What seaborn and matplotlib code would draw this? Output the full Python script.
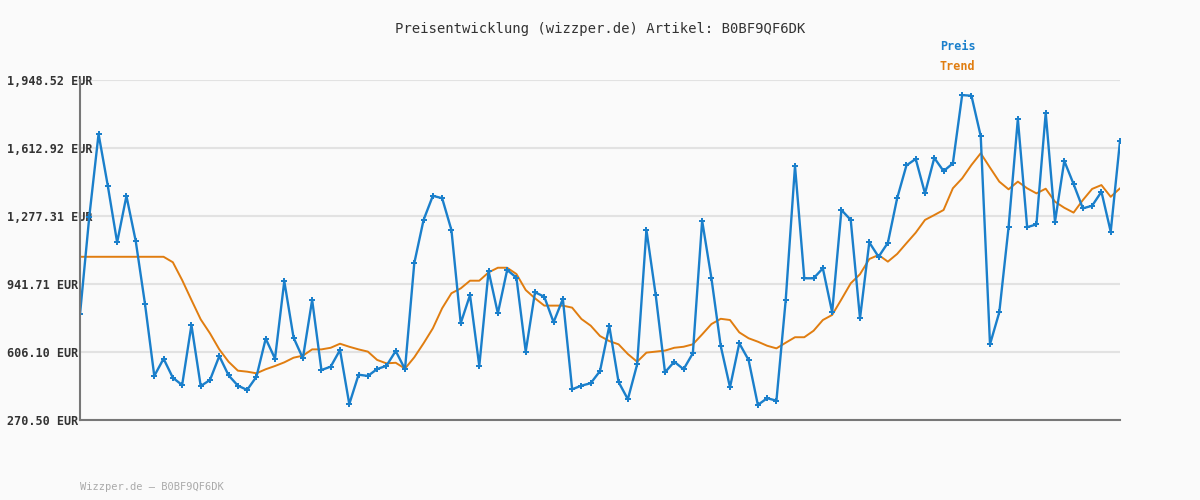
import numpy as np
import pandas as pd
import matplotlib
matplotlib.use("Agg")
import matplotlib.pyplot as plt
import seaborn as sns

preis = [792, 1274, 1682, 1425, 1147, 1376, 1154, 843, 488, 573,
         479, 443, 739, 438, 468, 586, 491, 440, 419, 484,
         672, 573, 956, 677, 575, 863, 517, 534, 616, 349,
         494, 488, 522, 538, 611, 521, 1045, 1258, 1377, 1365,
         1208, 748, 887, 537, 1006, 797, 1011, 973, 608, 901,
         879, 753, 868, 422, 440, 452, 512, 734, 458, 373,
         545, 1208, 887, 506, 558, 521, 600, 1254, 970, 636,
         432, 649, 567, 345, 378, 366, 863, 1524, 970, 970,
         1019, 802, 1307, 1258, 772, 1147, 1076, 1145, 1365, 1527,
         1559, 1389, 1564, 1499, 1537, 1874, 1871, 1672, 644, 802,
         1222, 1756, 1222, 1236, 1786, 1249, 1549, 1435, 1315, 1328,
         1397, 1200, 1647]
trend = [1076] * 10 + [
         1049, 961, 863, 767, 698, 619, 558, 514, 509, 501,
         521, 537, 555, 578, 588, 619, 619, 627, 647, 632,
         619, 608, 567, 550, 553, 524, 580, 649, 723, 822,
         896, 920, 958, 958, 999, 1022, 1022, 991, 912, 871,
         835, 835, 835, 825, 769, 736, 685, 660, 644, 596,
         558, 603, 608, 613, 627, 632, 644, 693, 744, 770,
         764, 703, 674, 657, 637, 624, 652, 679, 679, 711,
         764, 789, 866, 945, 990, 1065, 1085, 1052, 1090, 1143,
         1195, 1258, 1282, 1307, 1414, 1463, 1529, 1587, 1516, 1447,
         1409, 1447, 1414, 1389, 1412, 1348, 1318, 1294, 1356, 1411,
         1430, 1372, 1414]
yticks = [270.50, 606.10, 941.71, 1277.31, 1612.92, 1948.52]
artikel = "B0BF9QF6DK"

df = pd.DataFrame({"idx": np.arange(len(preis)), "Preis": preis, "Trend": trend})

sns.set_style("white")
plt.rcParams["font.family"] = ["DejaVu Sans Mono"]
blue = "#1a7fcb"
orange = "#e07d10"

fig = plt.figure(figsize=(12, 5), dpi=100, facecolor="#fafafa")
ax = fig.add_axes([80 / 1200, 80 / 500, 1040 / 1200, 340 / 500])
ax.set_facecolor("#fafafa")

sns.lineplot(data=df, x="idx", y="Trend", ax=ax, color=orange, linewidth=1.4)
sns.lineplot(data=df, x="idx", y="Preis", ax=ax, color=blue, linewidth=1.7,
             marker="P", markersize=4, markeredgewidth=0)

ax.set_xlim(0, len(preis) - 1)
ax.set_ylim(yticks[0], yticks[-1])
ax.set_yticks(yticks)
ax.set_yticklabels([f"{v:,.2f} EUR" for v in yticks], fontsize=8.5,
                   color="#333333", fontweight="bold")
ax.set_xticks([])
ax.set_xlabel("")
ax.set_ylabel("")
ax.tick_params(axis="y", length=0, pad=2)
for lbl in ax.get_yticklabels():
    lbl.set_horizontalalignment("left")
    lbl.set_x(-70 / 1040)
    lbl.set_zorder(5)
ax.grid(axis="y", color="#e2e2e2", linewidth=1.5)
for s in ["top", "right"]:
    ax.spines[s].set_visible(False)
for s in ["left", "bottom"]:
    ax.spines[s].set_color("#777777")
    ax.spines[s].set_linewidth(1.5)

fig.text(0.5, 1 - 29 / 500, f"Preisentwicklung (wizzper.de) Artikel: {artikel}",
         ha="center", va="center", fontsize=10, color="#333333")
fig.text(940 / 1200, 1 - 47 / 500, "Preis", color=blue, fontsize=8.5, fontweight="bold", va="center")
fig.text(940 / 1200, 1 - 67 / 500, "Trend", color=orange, fontsize=8.5, fontweight="bold", va="center")
fig.text(80 / 1200, 1 - 487 / 500, f"Wizzper.de – {artikel}", color="#aaaaaa", fontsize=7.5, va="center")

fig.savefig("out.png", dpi=100, facecolor=fig.get_facecolor())
